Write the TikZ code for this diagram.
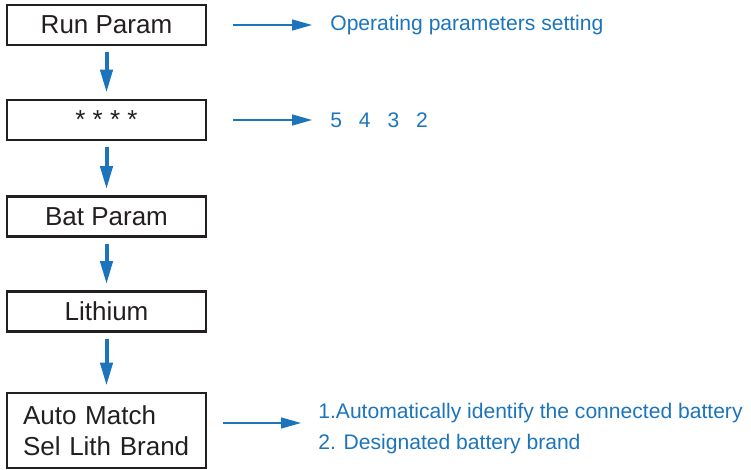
\documentclass[tikz,border=0pt]{standalone}
\usepackage{fontspec}
\setmainfont{Liberation Sans}
\usetikzlibrary{arrows.meta,positioning}
\definecolor{flowblue}{HTML}{1C75BC}
\definecolor{boxblack}{HTML}{231F20}

\begin{document}
\begin{tikzpicture}[x=0.02cm,y=-0.02cm,
  menubox/.style={draw=boxblack,line width=0.052cm,minimum width=3.98cm,
    minimum height=0.8cm,inner sep=0pt,text=boxblack,
    font=\fontsize{14.8}{17.4}\selectfont},
  flowarrow/.style={draw=flowblue,line width=0.08cm,
    -{Triangle[length=0.46cm,width=0.24cm]},shorten <=0.12cm,shorten >=0.12cm},
  notearrow/.style={draw=flowblue,line width=0.027cm,
    -{Triangle[length=0.4cm,width=0.22cm]}},
  note/.style={anchor=west,inner sep=0pt,text=flowblue,
    font=\fontsize{12}{17.6}\selectfont}]
  \useasboundingbox (0,0) rectangle (751,470);
  % menu boxes
  \node[menubox] (run) at (106.5,25) {Run Param};
  \node[menubox] (stars) at (106.5,120) {\raisebox{-0.55em}{* * * *}};
  \node[menubox] (bat) at (106.5,216.5) {Bat Param};
  \node[menubox] (lith) at (106.5,311.5) {Lithium};
  \node[menubox,minimum height=1.5cm,align=left,text width=3.34cm,
    inner xsep=0.32cm] (auto) at (106.5,430.5) {Auto Match\\Sel Lith Brand};
  \foreach \a/\b in {run/stars,stars/bat,bat/lith,lith/auto}
    \draw[flowarrow] (\a) -- (\b);
  % notes
  \node[note] (opnote) at (330,25) {Operating parameters setting};
  \node[note] (pwnote) at (330,120) {5\hspace{0.8em}4\hspace{0.8em}3\hspace{0.8em}2};
  \node[note,align=left] (brandnote) at (318,429)
    {1.Automatically identify the connected battery\\2. Designated battery brand};
  \draw[notearrow,shorten <=0.52cm,shorten >=0.36cm] (run.east) -- (opnote.west);
  \draw[notearrow,shorten <=0.52cm,shorten >=0.36cm] (stars.east) -- (pwnote.west);
  \draw[notearrow,shorten <=0.32cm,shorten >=0.34cm]
    ([yshift=0.12cm]auto.east |- brandnote.west) -- ([yshift=0.12cm]brandnote.west);
\end{tikzpicture}
\end{document}
